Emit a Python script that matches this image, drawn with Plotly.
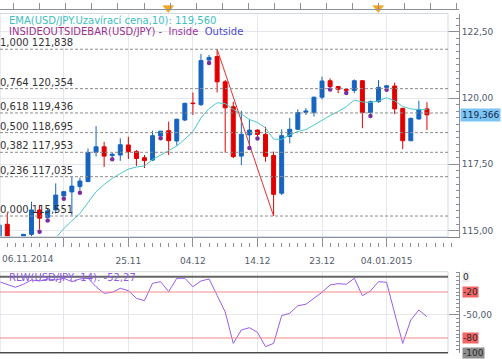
import plotly.graph_objects as go

# ---------------- data ----------------
dates = ["2014-11-06", "2014-11-07", "2014-11-09", "2014-11-10", "2014-11-11", "2014-11-12", "2014-11-13", "2014-11-14",
         "2014-11-16", "2014-11-17", "2014-11-18", "2014-11-19", "2014-11-20", "2014-11-21", "2014-11-23", "2014-11-24",
         "2014-11-25", "2014-11-26", "2014-11-27", "2014-11-28", "2014-11-30", "2014-12-01", "2014-12-02", "2014-12-03",
         "2014-12-04", "2014-12-05", "2014-12-07", "2014-12-08", "2014-12-09", "2014-12-10", "2014-12-11", "2014-12-12",
         "2014-12-14", "2014-12-15", "2014-12-16", "2014-12-17", "2014-12-18", "2014-12-19", "2014-12-21", "2014-12-22",
         "2014-12-23", "2014-12-24", "2014-12-26", "2014-12-28", "2014-12-29", "2014-12-30", "2014-12-31", "2015-01-02",
         "2015-01-04", "2015-01-05", "2015-01-06", "2015-01-07", "2015-01-08", "2015-01-09"]

open_ = [114.60, 115.24, 114.60, 114.76, 114.86, 115.78, 115.50, 115.78,
         116.31, 116.46, 116.66, 116.85, 117.95, 118.16, 117.83, 117.85,
         118.23, 117.98, 117.75, 117.66, 118.57, 118.77, 118.38, 119.17,
         119.81, 119.75, 121.43, 121.56, 120.61, 119.67, 117.81, 118.61,
         118.79, 118.63, 117.83, 116.41, 118.55, 118.82, 119.46, 119.46,
         120.03, 120.65, 120.43, 120.33, 120.28, 120.65, 119.45, 119.86,
         120.40, 120.45, 119.61, 118.39, 119.21, 119.59]
high = [115.25, 115.65, 114.70, 114.88, 116.09, 115.97, 115.84, 116.78,
        116.50, 117.03, 117.00, 118.10, 118.94, 118.35, 117.93, 118.48,
        118.54, 118.04, 117.85, 118.77, 118.76, 119.11, 119.22, 119.82,
        120.21, 121.66, 121.62, 121.838, 120.68, 119.86, 119.52, 119.20,
        118.82, 118.91, 117.98, 118.82, 119.25, 119.57, 119.62, 120.05,
        120.80, 120.74, 120.45, 120.36, 120.70, 120.68, 119.90, 120.68,
        120.48, 120.58, 119.63, 119.27, 119.90, 119.84]
low = [114.50, 114.45, 114.52, 114.60, 114.70, 115.04, 115.46, 115.65,
       116.28, 115.57, 116.51, 116.83, 117.79, 117.40, 117.77, 117.63,
       117.70, 117.44, 117.36, 117.62, 118.56, 117.85, 118.21, 119.13,
       119.36, 119.70, 121.40, 120.21, 117.94, 117.73, 117.47, 118.20,
       118.55, 117.60, 115.551, 116.34, 118.29, 118.79, 119.36, 119.30,
       119.95, 120.40, 120.18, 120.27, 120.18, 118.86, 119.40, 119.82,
       120.39, 119.39, 118.07, 118.37, 119.19, 118.79]
close = [115.21, 114.55, 114.66, 114.86, 115.78, 115.47, 115.75, 116.34,
         116.47, 116.68, 116.87, 117.95, 118.16, 117.81, 117.88, 118.24,
         117.98, 117.72, 117.64, 118.58, 118.75, 118.39, 119.20, 119.80,
         119.79, 121.41, 121.53, 120.61, 119.63, 117.79, 118.63, 118.79,
         118.63, 117.80, 116.37, 118.58, 118.82, 119.45, 119.51, 120.03,
         120.64, 120.43, 120.33, 120.29, 120.65, 119.45, 119.86, 120.40,
         120.46, 119.59, 118.39, 119.23, 119.57, 119.366]

ema10 = [None, None, None, None, None, None, None, 114.72,
         115.08, 115.37, 115.65, 116.06, 116.47, 116.74, 116.97, 117.15,
         117.32, 117.40, 117.44, 117.68, 117.85, 118.02, 118.19, 118.45,
         118.73, 119.25, 119.60, 119.82, 119.79, 119.57, 119.40, 119.19,
         119.08, 118.87, 118.45, 118.44, 118.61, 118.74, 118.81, 118.98,
         119.17, 119.34, 119.49, 119.67, 119.92, 119.85, 119.83, 119.89,
         120.01, 119.89, 119.68, 119.59, 119.56, 119.56]

rlw14 = [-6.5, -9.9, -13.8, -9.9, -4.3, -5.6, -3.0, -4.3,
         -2.1, -6.5, -3.0, -2.1, -13.1, -21.7, -20.4, -15.1,
         -18.3, -28.2, -31.3, -8.6, -6.5, -19.6, -2.1, -2.1,
         -13.1, -5.6, -3.0, -24.4, -46.0, -87.0, -69.6, -66.6,
         -72.6, -91.4, -87.0, -50.9, -47.8, -37.9, -36.0, -28.2,
         -20.4, -10.8, -9.1, -9.9, -2.1, -24.8, -18.7, -6.5,
         -7.3, -47.8, -87.0, -56.5, -43.5, -52.27]

inside_bar_dates = ["2014-11-12", "2014-11-13", "2014-11-16", "2014-11-18", "2014-11-23", "2014-11-30",
                    "2014-12-07", "2014-12-12", "2014-12-14", "2014-12-24", "2014-12-28", "2014-12-31",
                    "2015-01-04"]

fib_ratios = [1.000, 0.764, 0.618, 0.500, 0.382, 0.236, 0.000]
fib_prices = [121.838, 120.354, 119.436, 118.695, 117.953, 117.035, 115.551]
zigzag_dates = ["2014-12-08", "2014-12-16"]

label_every = 8            # a date grid line every 8 candles
event_positions = [20.95, 46.97]   # orange event markers on the top strip (candle units)
ema_last = 119.560
rlw_last = -52.27
rlw_bands = [-20, -80]

# ---------------- helpers ----------------
H_PX, W_PX = 359, 502
PLOT_W = 459          # plotted width (margin right 43)
FRAME_W = 448


def py(px):
    return (H_PX - px) / H_PX


def fmt(v, d):
    return f"{v:.{d}f}".replace(".", ",")


xs = list(range(len(dates)))
pos = {d: i for i, d in enumerate(dates)}
px_per_candle = 8.07
x0 = 0.0954
xr = [x0, x0 + PLOT_W / px_per_candle]
frame_frac = FRAME_W / PLOT_W

FONT = "DejaVu Sans"
BLUE = "#1764C0"
RED = "#E00000"
GRID = "#E4E8EE"
FRAME = "#D3D8E0"
AXIS = "#8A8F98"

fig = go.Figure()

fig.add_trace(go.Candlestick(
    x=xs, open=open_, high=high, low=low, close=close,
    increasing=dict(line=dict(color=BLUE, width=1), fillcolor=BLUE),
    decreasing=dict(line=dict(color=RED, width=1), fillcolor=RED),
    whiskerwidth=0, xaxis="x", yaxis="y", showlegend=False, hoverinfo="skip"))

fig.add_trace(go.Scatter(x=xs, y=ema10, mode="lines", line=dict(color="#4CC6C6", width=1),
                         xaxis="x", yaxis="y", showlegend=False, hoverinfo="skip"))

zz_x = [pos[zigzag_dates[0]], pos[zigzag_dates[1]]]
zz_y = [high[zz_x[0]], low[zz_x[1]]]
fig.add_trace(go.Scatter(x=zz_x, y=zz_y, mode="lines", line=dict(color="#E23030", width=1),
                         xaxis="x", yaxis="y", showlegend=False, hoverinfo="skip"))

ib_x = [pos[d] for d in inside_bar_dates]
ib_y = [low[i] - 0.08 for i in ib_x]
fig.add_trace(go.Scatter(x=ib_x, y=ib_y, mode="markers",
                         marker=dict(color="#7A2E9E", size=4.5, line=dict(width=0)),
                         xaxis="x", yaxis="y", showlegend=False, hoverinfo="skip"))

fig.add_trace(go.Scatter(x=xs, y=rlw14, mode="lines", line=dict(color="#9A5CEB", width=1),
                         xaxis="x2", yaxis="y2", showlegend=False, hoverinfo="skip"))

fig.add_trace(go.Scatter(x=event_positions, y=[0.11] * len(event_positions), mode="markers",
                         marker=dict(symbol="triangle-down", size=9, color="#F5A31A",
                                     line=dict(color="#F7B54A", width=1)),
                         xaxis="x4", yaxis="y3", cliponaxis=False, showlegend=False, hoverinfo="skip"))

# invisible carrier trace so the date axis (x3) gets drawn
fig.add_trace(go.Scatter(x=xs, y=[0.5] * len(xs), mode="lines", line=dict(width=0, color="rgba(0,0,0,0)"),
                         xaxis="x3", yaxis="y4", showlegend=False, hoverinfo="skip"))

# ---------------- axes ----------------
grid_idx = list(range(label_every, len(dates), label_every))
tick_text = []
prev_year = dates[0][:4]
for i in grid_idx:
    y, m, d = dates[i].split("-")
    if i == label_every:
        tick_text.append("")
    elif y != prev_year:
        tick_text.append(f"{d}.{m}.{y}")
    else:
        tick_text.append(f"{d}.{m}")
    prev_year = y

main_dom = [py(236.7), py(13.5)]
rlw_dom = [py(353.3), py(271.7)]
top_dom = [py(9), 1.0]
date_dom = [py(247), py(237.5)]
y_main_range = [114.772, 123.185]

common_x = dict(range=xr, showgrid=True, gridcolor=GRID, gridwidth=1, tickvals=grid_idx,
                showticklabels=False, ticks="", zeroline=False, fixedrange=True, automargin=False)

fig.update_layout(
    width=W_PX, height=H_PX,
    margin=dict(l=0, r=W_PX - PLOT_W, t=0, b=0, pad=0),
    paper_bgcolor="white", plot_bgcolor="white",
    separators=", ",
    font=dict(family=FONT, size=10, color="#333333"),
    showlegend=False,
    hovermode=False,
    xaxis=dict(domain=[0, 1], anchor="y", showline=True, linecolor="#7C828C", linewidth=1,
               rangeslider=dict(visible=False), **common_x),
    yaxis=dict(domain=main_dom, anchor="x", range=y_main_range, side="right",
               tick0=115, dtick=2.5, tickformat=".2f", ticks="inside", ticklen=11, tickcolor=AXIS,
               minor=dict(dtick=0.25, tick0=115, ticks="inside", ticklen=3, tickcolor=AXIS, showgrid=False),
               showgrid=True, gridcolor=GRID, showline=True, linecolor=AXIS, zeroline=False,
               tickfont=dict(family=FONT, size=9, color="#4E5A6E"), automargin=False),
    xaxis2=dict(domain=[0, 1], anchor="y2", showline=False, **common_x),
    yaxis2=dict(domain=rlw_dom, anchor="x2", range=[-100, 6.5], side="right",
                tickvals=[-50], ticks="inside", ticklen=10, tickcolor=AXIS, showticklabels=False,
                minor=dict(dtick=5, tick0=0, ticks="inside", ticklen=3, tickcolor=AXIS, showgrid=False),
                showgrid=True, gridcolor=GRID, showline=True, linecolor=AXIS, zeroline=False,
                automargin=False),
    xaxis3=dict(range=xr, domain=[0, 1], anchor="y4", side="bottom",
                tickvals=grid_idx, ticktext=tick_text, ticks="inside", ticklen=10, tickcolor=AXIS,
                minor=dict(dtick=1, tick0=0, ticks="inside", ticklen=4, tickcolor=AXIS, showgrid=False),
                showgrid=False, showline=False, zeroline=False, ticklabelstandoff=7,
                tickfont=dict(family=FONT, size=9, color="#555C6B"), automargin=False),
    yaxis4=dict(domain=date_dom, anchor="x3", range=[0, 1], visible=False),
    xaxis4=dict(range=xr, domain=[0, 1], anchor="y3", side="bottom", tick0=1.824, dtick=3.223,
                ticks="inside", ticklen=6, tickcolor=AXIS, showticklabels=False, showgrid=False,
                showline=True, linecolor=AXIS, zeroline=False, automargin=False),
    yaxis3=dict(domain=top_dom, anchor="x4", range=[0, 1], visible=False),
)

# ---------------- shapes ----------------
shapes = [
    dict(type="rect", xref="x domain", yref="y domain", x0=0, x1=frame_frac, y0=0, y1=1,
         line=dict(color=FRAME, width=1)),
    dict(type="rect", xref="x2 domain", yref="y2 domain", x0=0, x1=frame_frac, y0=0, y1=1,
         line=dict(color=FRAME, width=1)),
]
for p in fib_prices:
    shapes.append(dict(type="line", xref="x domain", yref="y", x0=0, x1=frame_frac, y0=p, y1=p,
                       line=dict(color="#8C8C8C", width=1, dash="3px,2px")))
shapes.append(dict(type="line", xref="x2 domain", yref="y2", x0=0, x1=frame_frac, y0=0, y1=0,
                   line=dict(color="#666666", width=2)))
for b in rlw_bands:
    shapes.append(dict(type="line", xref="x2 domain", yref="y2", x0=0, x1=frame_frac, y0=b, y1=b,
                       line=dict(color="#F08A8A", width=1)))
shapes.append(dict(type="line", xref="x2 domain", yref="y2", x0=0, x1=frame_frac, y0=-100, y1=-100,
                   line=dict(color="#111111", width=2)))
fig.update_layout(shapes=shapes)

# ---------------- annotations ----------------
ann = []
ann.append(dict(xref="paper", yref="paper", x=7.3 / PLOT_W, y=py(20), xanchor="left", yanchor="middle",
                text=f"EMA(USD/JPY.Uzavírací cena,10): {fmt(ema_last, 3)}", showarrow=False,
                font=dict(family=FONT, size=10, color="#3EC0C0")))
ann.append(dict(xref="paper", yref="paper", x=7.3 / PLOT_W, y=py(31.7), xanchor="left", yanchor="middle",
                text=("<span style='color:#9B2F8E'>INSIDEOUTSIDEBAR(USD/JPY) - </span>"
                      "<span style='color:#A0309A'> Inside </span>"
                      "<span style='color:#4A4AD2'> Outside</span>"), showarrow=False,
                font=dict(family=FONT, size=10)))
for r, p in zip(fib_ratios, fib_prices):
    ann.append(dict(xref="paper", yref="y", x=0, y=p, xanchor="left", yanchor="bottom", xshift=-1,
                    text=f"{fmt(r, 3)} {fmt(p, 3)}", showarrow=False, borderpad=0,
                    font=dict(family=FONT, size=10, color="#333333")))
y0_, m0_, d0_ = dates[0].split("-")
ann.append(dict(xref="paper", yref="paper", x=0, y=py(259), xanchor="left", yanchor="middle",
                text=f"{d0_}.{m0_}.{y0_}", showarrow=False,
                font=dict(family=FONT, size=9, color="#555C6B")))
ann.append(dict(xref="paper", yref="y", x=1, y=close[-1], xanchor="left", yanchor="middle", xshift=1,
                text=fmt(close[-1], 3), showarrow=False, bgcolor="#7CC4F4", borderpad=1,
                font=dict(family=FONT, size=9, color="#13284A")))
ann.append(dict(xref="paper", yref="y2", x=7.3 / PLOT_W, y=0, xanchor="left", yanchor="middle", yshift=-1,
                text=f"RLW(USD/JPY, 14): {fmt(rlw_last, 2)}", showarrow=False,
                font=dict(family=FONT, size=10, color="#8C5AE6")))
rlw_labels = [(0, "0", "#ECECEC"), (-20, "-20", "#F26666"), (-50, "-50,00", None),
              (-80, "-80", "#F26666"), (-100, "-100", "#8E8E8E")]
for v, t, bg in rlw_labels:
    a = dict(xref="paper", yref="y2", x=1, y=v, xanchor="left", yanchor="middle", xshift=3,
             text=t, showarrow=False, borderpad=0,
             font=dict(family=FONT, size=9, color="#4E5A6E" if bg is None else "#2A2A2A"))
    if bg:
        a["bgcolor"] = bg
    ann.append(a)
fig.update_layout(annotations=ann)

fig.write_html("out.html", config={"displayModeBar": False},
               post_script="document.body.style.margin='0';")
